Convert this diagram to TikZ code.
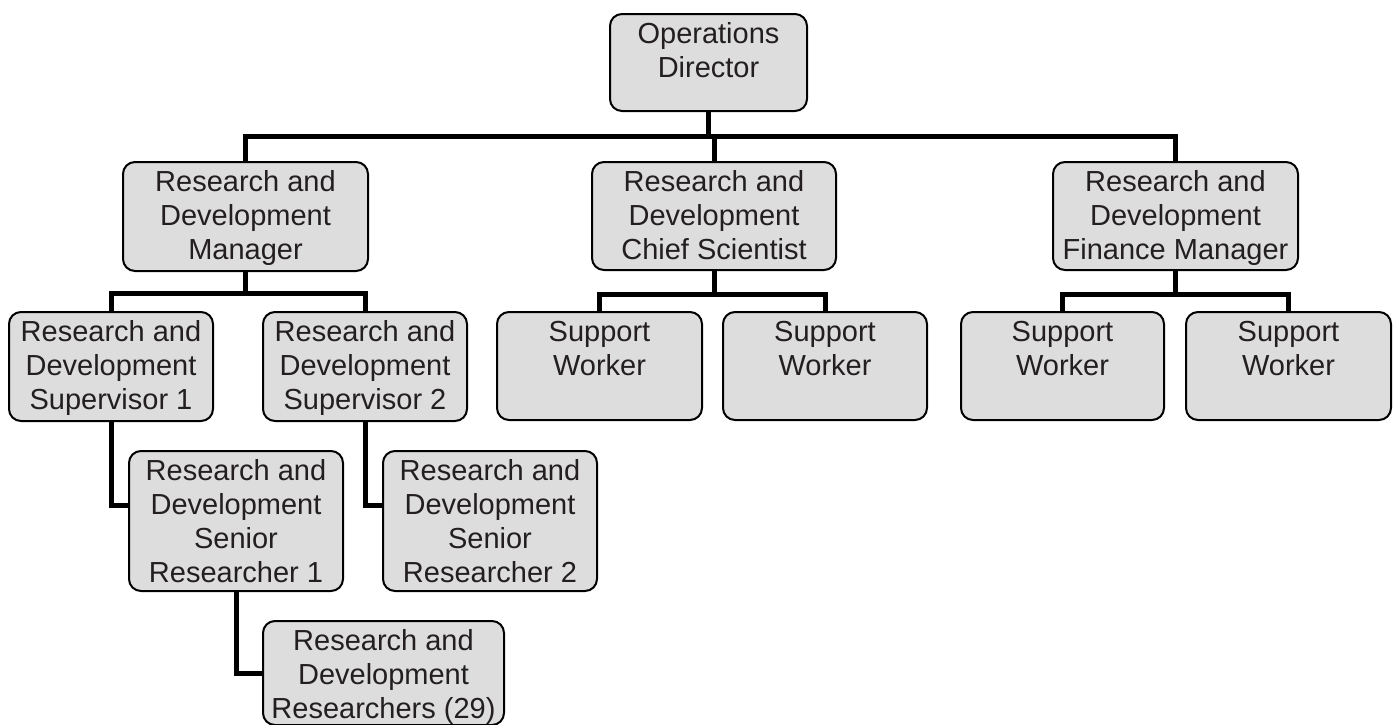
\documentclass[tikz,border=0pt]{standalone}
\usepackage{fontspec}
\setmainfont{Liberation Sans}
\usepackage{tikz}
\definecolor{boxgray}{HTML}{DDDDDD}
\definecolor{inkgray}{HTML}{231F20}
\tikzset{post/.style = {draw=black, line width=2pt, fill=boxgray,
                        rounded corners=12pt, inner sep=0pt, text=inkgray,
                        font=\fontsize{29}{34}\selectfont},
         link/.style = {line width=5pt}}
\newcommand{\postlabel}[3]{\parbox[c][#2][t]{#1}{\centering\rule{0pt}{29.5pt}#3}}

\begin{document}
\begin{tikzpicture}[x=1pt, y=-1pt]
    \useasboundingbox (0, 0) rectangle (1394, 724);

    \node [post] (dir) at (708.5, 62.5) {\postlabel{197pt}{97pt}{Operations\\Director}};

    \node [post] (mgr) at (245.5, 216.5) {\postlabel{245pt}{109pt}{Research and\\Development\\Manager}};
    \node [post] (chief) at (714, 216) {\postlabel{244pt}{108pt}{Research and\\Development\\Chief Scientist}};
    \node [post] (fin) at (1175.5, 216) {\postlabel{245pt}{108pt}{Research and\\Development\\Finance Manager}};

    \node [post] (sup1) at (111, 366.5) {\postlabel{204pt}{109pt}{Research and\\Development\\Supervisor 1}};
    \node [post] (sup2) at (365, 366.5) {\postlabel{204pt}{109pt}{Research and\\Development\\Supervisor 2}};
    \node [post] (sw1) at (599.5, 366) {\postlabel{205pt}{108pt}{Support\\Worker}};
    \node [post] (sw2) at (825, 366) {\postlabel{204pt}{108pt}{Support\\Worker}};
    \node [post] (sw3) at (1062.5, 366) {\postlabel{203pt}{108pt}{Support\\Worker}};
    \node [post] (sw4) at (1288.5, 366) {\postlabel{205pt}{108pt}{Support\\Worker}};

    \node [post] (sr1) at (236, 521) {\postlabel{214pt}{140pt}{Research and\\Development\\Senior\\Researcher 1}};
    \node [post] (sr2) at (490, 521) {\postlabel{214pt}{140pt}{Research and\\Development\\Senior\\Researcher 2}};

    \node [post] (res) at (383.5, 673) {\postlabel{241pt}{104pt}{Research and\\Development\\Researchers (29)}};

    % reporting lines
    \foreach \n in {mgr, chief, fin} {
      \draw [link] (dir.south) -- ++(0, 24) -| (\n.north);
    }
    \foreach \n in {sup1, sup2} {
      \draw [link] (mgr.south) -- ++(0, 21) -| (\n.north);
    }
    \foreach \n in {sw1, sw2} {
      \draw [link] (chief.south) -- ++(0, 23) -| (\n.north);
    }
    \foreach \n in {sw3, sw4} {
      \draw [link] (fin.south) -- ++(0, 23) -| (\n.north);
    }
    \draw [link] (sup1.south) |- ([yshift=16pt]sr1.west);
    \draw [link] (sup2.south) |- ([yshift=16pt]sr2.west);
    \draw [link] (sr1.south) |- (res.west);
\end{tikzpicture}
\end{document}
